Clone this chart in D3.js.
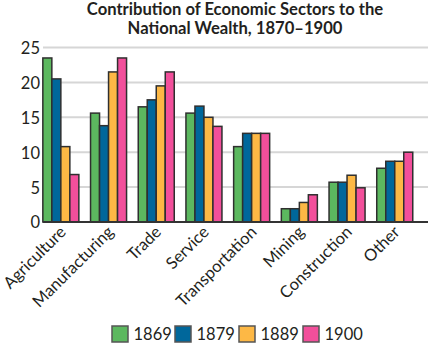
<!DOCTYPE html>
<html><head><meta charset="utf-8">
<script src="https://cdn.jsdelivr.net/npm/d3@7"></script>
<style>body{margin:0;background:#fff}svg{display:block}text{font-family:Lato, "Open Sans", sans-serif;fill:#231f20}</style>
</head><body><div id="chart"></div>
<script>
const categories = ["Agriculture","Manufacturing","Trade","Service","Transportation","Mining","Construction","Other"];
const years = ["1869","1879","1889","1900"];
const v1869 = [23.5, 15.6, 16.5, 15.6, 10.8, 1.9, 5.7, 7.7];
const v1879 = [20.5, 13.8, 17.5, 16.6, 12.7, 1.9, 5.7, 8.7];
const v1889 = [10.8, 21.5, 19.5, 15.0, 12.7, 2.8, 6.7, 8.7];
const v1900 = [6.8, 23.5, 21.5, 13.7, 12.7, 3.9, 4.9, 10.0];
const yTicks = [0,5,10,15,20,25];
const colors = ["#5cb85f","#00679b","#fdb845","#f24f9b"];
const series = [v1869, v1879, v1889, v1900];

const W = 428, H = 344;
const svg = d3.select("#chart").append("svg").attr("width", W).attr("height", H);

const title = svg.append("text").attr("text-anchor","middle").attr("font-weight","700").attr("font-size","16.6px");
title.append("tspan").attr("x",235).attr("y",15).text("Contribution of Economic Sectors to the");
title.append("tspan").attr("x",235).attr("y",34).text("National Wealth, 1870\u20131900");

const y = d3.scaleLinear().domain([0,25]).range([222,47.5]);
const x0 = d3.scaleBand().domain(categories).range([37, 37+8*47.7]).paddingInner(0.245).paddingOuter(0.1225);
const x1 = d3.scaleBand().domain(years).range([0, x0.bandwidth()]);

// gridlines
svg.append("g").selectAll("line").data(yTicks.filter(d=>d>0)).join("line")
  .attr("x1",43).attr("x2",428).attr("y1",d=>y(d)).attr("y2",d=>y(d))
  .attr("stroke","#d6d6d6").attr("stroke-width",2);

// y axis
const yAxis = d3.axisLeft(y).tickValues(yTicks).tickSize(0).tickPadding(0);
const gy = svg.append("g").attr("transform","translate(40,0)").call(yAxis);
gy.select(".domain").remove();
gy.selectAll("text").attr("font-size","16.5px").attr("dy","0.36em").attr("x",0);

// bars
const groups = svg.append("g").selectAll("g").data(categories).join("g")
  .attr("transform", c => `translate(${x0(c)},0)`);
groups.selectAll("rect").data((c,i) => years.map((yr,j)=>({yr, v: series[j][i], j}))).join("rect")
  .attr("x", d => x1(d.yr)).attr("width", x1.bandwidth())
  .attr("y", d => y(d.v)).attr("height", d => y(0)-y(d.v))
  .attr("fill", d => colors[d.j]).attr("stroke","#2f2f2f").attr("stroke-width",1.5);

// baseline
svg.append("line").attr("x1",43).attr("x2",428).attr("y1",y(0)).attr("y2",y(0)).attr("stroke","#333").attr("stroke-width",2);

// x axis labels
const xAxis = d3.axisBottom(x0).tickSize(0).tickPadding(0);
const gx = svg.append("g").attr("transform",`translate(0,${y(0)})`).call(xAxis);
gx.select(".domain").remove();
gx.selectAll("text").attr("font-size","16.5px").attr("text-anchor","end")
  .attr("dy",null).attr("y",0)
  .attr("transform","translate(6,11) rotate(-45)");

// legend
const legendX = [112, 175, 239, 303];
const lg = svg.append("g").selectAll("g").data(years).join("g")
  .attr("transform",(d,i)=>`translate(${legendX[i]},326)`);
lg.append("rect").attr("width",16).attr("height",16).attr("fill",(d,i)=>colors[i]).attr("stroke","#555").attr("stroke-width",1.5);
lg.append("text").attr("x",21.5).attr("y",8).attr("dy","0.36em").attr("font-size","16.5px").text(d=>d);
</script></body></html>
